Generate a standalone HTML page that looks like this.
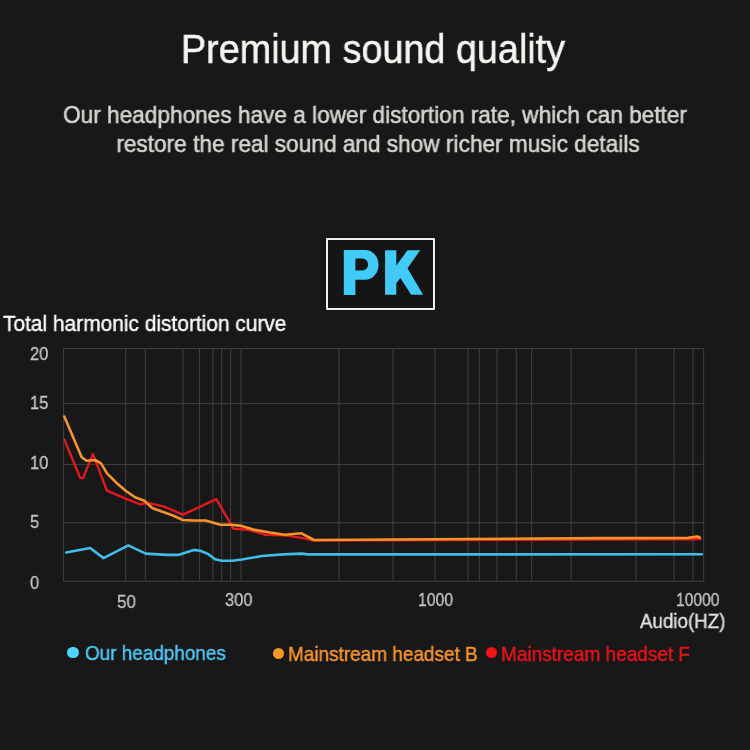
<!DOCTYPE html>
<html><head><meta charset="utf-8">
<style>
html,body{margin:0;padding:0;}
body{width:750px;height:750px;background:#181818;position:relative;overflow:hidden;font-family:"Liberation Sans",sans-serif;}
.t{position:absolute;white-space:nowrap;line-height:1;transform-origin:0 0;will-change:transform;}
.c{left:0;width:750px;text-align:center;transform-origin:375px 0;}
#title{top:29px;left:-2.3px;font-size:41px;color:#f7f5f1;-webkit-text-stroke:0.5px #f7f5f1;transform:scaleX(0.921);}
.sub{font-size:24px;color:#d6d4cf;-webkit-text-stroke:0.55px #d6d4cf;transform:scaleX(0.943);}
#s1{top:103px;left:-0.5px;}
#s2{top:131.6px;left:2.5px;}
#pk{position:absolute;left:326px;top:238px;width:104.5px;height:67.5px;border:2px solid #f0f0f0;border-radius:1px;background:#151515;box-shadow:0 0 0 1px #101010;}
#pkt{left:339.3px;top:240px;font-size:65px;font-weight:bold;color:#3ec9f6;transform:scaleX(0.945);}
#thd{left:3px;top:313px;font-size:22px;color:#fbfbfb;-webkit-text-stroke:0.4px #fbfbfb;transform:scaleX(0.95);}
.yl{font-size:17.5px;color:#c6c6c6;-webkit-text-stroke:0.3px #c6c6c6;left:30px;transform:scaleX(0.94);}
.xl{font-size:17.5px;color:#c6c6c6;-webkit-text-stroke:0.3px #c6c6c6;}
#aud{left:640px;top:611px;font-size:20px;color:#e2e2e2;-webkit-text-stroke:0.35px #e2e2e2;transform:scaleX(0.937);}
.lg{font-size:21px;top:642px;-webkit-text-stroke:0.45px currentColor;}
.dot{position:absolute;width:11.5px;height:11.5px;border-radius:50%;}
svg{position:absolute;left:0;top:0;}
</style></head><body>
<div class="t c" id="title">Premium sound quality</div>
<div class="t c sub" id="s1">Our headphones have a lower distortion rate, which can better</div>
<div class="t c sub" id="s2">restore the real sound and show richer music details</div>
<div id="pk"></div>
<div class="t" id="thd">Total harmonic distortion curve</div>

<svg width="750" height="750" viewBox="0 0 750 750">
<g fill="#40cbf8">
<path fill-rule="evenodd" d="M343.8 250H365A13.5 14.9 0 0 1 365 279.8H355.4V295H343.8ZM355.4 258.6H362.4A5.7 5.95 0 0 1 362.4 270.5H355.4Z"/>
<path d="M385.1 250.2H396.3V265.6L407.5 250.2H420.2L407.5 268.3L423.1 294.8H411.2L400.4 278L396.3 283.2V294.8H385.1Z"/>
</g>
<g stroke="#404040" stroke-width="1" fill="none">
<path d="M63.6 348.1V581.7M703.7 348.1V581.7M63.6 348.6H703.7M63.6 581.2H703.7M63.6 403.6H703.7M63.6 464.4H703.7M63.6 522.8H703.7"/>
<path d="M125.7 348.6V581.2M145.3 348.6V581.2M182.9 348.6V581.2M199.6 348.6V581.2M212.9 348.6V581.2M221.7 348.6V581.2M230.7 348.6V581.2M241.1 348.6V581.2M338.9 348.6V581.2M393.1 348.6V581.2M435.0 348.6V581.2M467.9 348.6V581.2M479.3 348.6V581.2M497.0 348.6V581.2M516.3 348.6V581.2M531.7 348.6V581.2M571.1 348.6V581.2M636.0 348.6V581.2M674.0 348.6V581.2M693.1 348.6V581.2"/>
</g>
<g fill="none" stroke-width="2.6" stroke-linejoin="round" stroke-linecap="round">
<path stroke-width="2.4" stroke="#e4181d" d="M64.3 439.5L80.3 478.1L83 478.1L92.9 454.1L107 490.7L124.3 498.1L140.3 504.5L147 502.7L164.3 506.7L183 514.7L216.3 499.2L233.7 528.8L241.7 529.3L250 530.1L264.7 534.7L283.3 535.2L302 537.9L314 540.5L600 539.5L690 539.2L700.6 539"/>
<path stroke="#f7932a" d="M64.3 416.5L81.7 457.3L86.5 460.8L95 460L100.9 463.2L107 473.3L116.3 482.7L125.7 490.7L135 497.3L144.3 500.8L152.3 508L161.7 511.5L172.3 515.2L183 520L193.7 520.5L205.7 520.5L220.3 524.8L231 524.8L241.7 525.9L255 529.9L270 532.5L284.7 534.7L301.5 533.3L314 540L430 539.2L600 538.1L688 537.9L697.5 536.5L699.8 537.6"/>
<path stroke="#42bbe6" d="M66.2 552.5L90.2 548L103.5 558.1L128.3 545.3L145.7 553.6L167 554.9L178.2 554.9L193.7 549.9L200.3 550.7L208.3 554.1L215 559.2L221.7 560.8L232.3 560.8L241.7 559.5L262 556L283.3 554.4L302 553.6L307.3 554.4L430 554.4L701.8 554.2"/>
</g>
</svg>

<div class="t yl" style="top:346px">20</div>
<div class="t yl" style="top:395px">15</div>
<div class="t yl" style="top:455px">10</div>
<div class="t yl" style="top:514px">5</div>
<div class="t yl" style="top:575px">0</div>

<div class="t xl" style="left:117px;top:593.5px;transform:scaleX(0.97)">50</div>
<div class="t xl" style="left:225px;top:592px;transform:scaleX(0.94)">300</div>
<div class="t xl" style="left:418px;top:592px;transform:scaleX(0.9)">1000</div>
<div class="t xl" style="left:676px;top:591.5px;transform:scaleX(0.89)">10000</div>
<div class="t" id="aud">Audio(HZ)</div>

<div class="dot" style="left:67.2px;top:646.8px;background:#4fd3fa"></div>
<div class="t lg" style="left:84.5px;top:642px;color:#4cc6f3;transform:scaleX(0.9)">Our headphones</div>
<div class="dot" style="left:272.6px;top:647.6px;background:#fa9623"></div>
<div class="t lg" style="left:287.5px;top:643px;color:#f7952a;transform:scaleX(0.903)">Mainstream headset B</div>
<div class="dot" style="left:485.5px;top:646.6px;background:#f51218"></div>
<div class="t lg" style="left:501px;top:643px;color:#e9131b;transform:scaleX(0.905)">Mainstream headset F</div>
</body></html>
